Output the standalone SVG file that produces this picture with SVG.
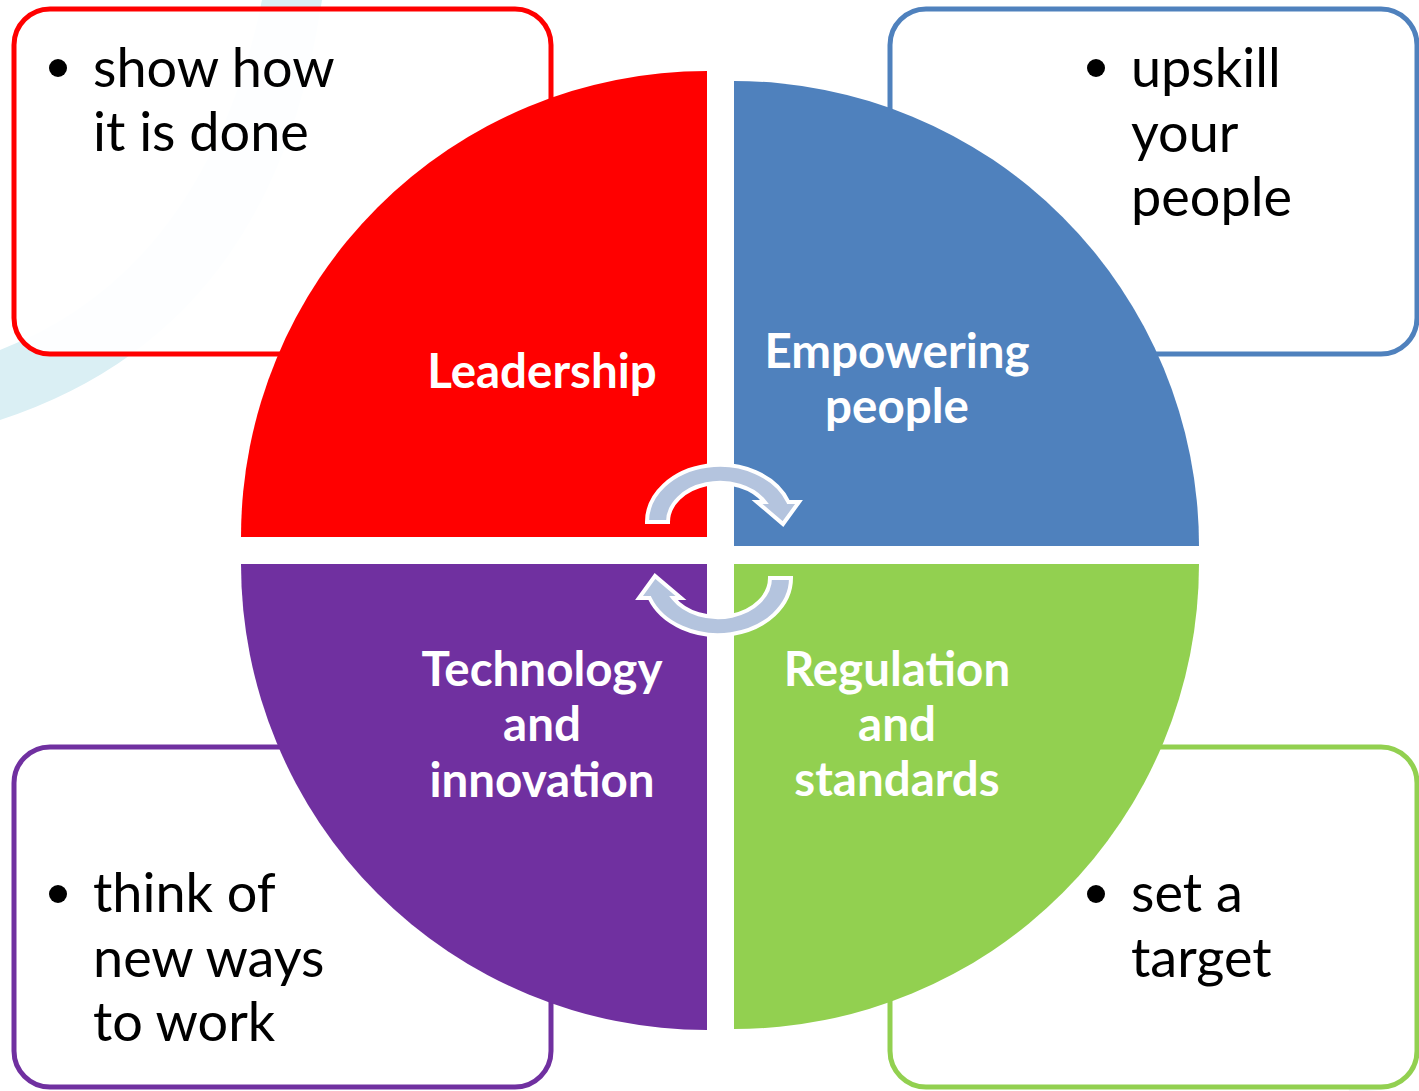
<svg xmlns="http://www.w3.org/2000/svg" width="1419" height="1091" viewBox="0 0 1419 1091">
  <style>
    .box { fill: #ffffff; fill-opacity: 0.94; stroke-width: 5; }
    .note { font-family: Lato, "Open Sans", "Liberation Sans", sans-serif; font-size: 54px; fill: #000000; }
    .label { font-family: Lato, "Open Sans", "Liberation Sans", sans-serif; font-weight: bold; font-size: 47.5px; fill: #ffffff; text-anchor: middle; }
    .cycle { fill: #b4c4de; stroke: #ffffff; stroke-width: 4; stroke-linejoin: miter; }
  </style>
  <defs>
    <path id="cycle-arrow" d="M647,522 A73,57 0 0 1 788.4,502 L799,502 L783,524 L757,502 L764.7,502 A52,39 0 0 0 668,522 Z"/>
  </defs>

  <rect width="1419" height="1091" fill="#ffffff"/>

  <!-- background swooshes -->
  <g id="background">
    <path d="M0,420 Q275,330 322,0 L262,0 Q205,270 0,350 Z" fill="#daeff4"/>
    <path d="M1133,817 Q1345,835 1367,1091" fill="none" stroke="#f3f5f8" stroke-width="36"/>
  </g>

  <!-- Leadership -->
  <g id="node-leadership">
    <rect class="box" x="14" y="9" width="537" height="345" rx="36" stroke="#ff0000"/>
    <circle cx="58" cy="68" r="9"/>
    <text class="note" x="93" y="87">show how</text>
    <text class="note" x="93" y="151">it is done</text>
    <path d="M707,537 L241,537 A466,466 0 0 1 707,71 Z" fill="#ff0000"/>
    <text class="label" x="542" y="388">Leadership</text>
  </g>

  <!-- Empowering people -->
  <g id="node-empowering">
    <rect class="box" x="890" y="9" width="527" height="345" rx="36" stroke="#4f81bd"/>
    <circle cx="1096" cy="68" r="9"/>
    <text class="note" x="1131" y="87">upskill</text>
    <text class="note" x="1131" y="152">your</text>
    <text class="note" x="1131" y="216">people</text>
    <path d="M734,546 L734,81 A465,465 0 0 1 1199,546 Z" fill="#4f81bd"/>
    <text class="label" x="897" y="368">Empowering</text>
    <text class="label" x="897" y="423">people</text>
  </g>

  <!-- Technology and innovation -->
  <g id="node-technology">
    <rect class="box" x="14" y="747" width="537" height="340" rx="36" stroke="#7030a0"/>
    <circle cx="58" cy="894" r="9"/>
    <text class="note" x="93" y="912">think of</text>
    <text class="note" x="93" y="977">new ways</text>
    <text class="note" x="93" y="1041">to work</text>
    <path d="M707,564 L707,1030 A466,466 0 0 1 241,564 Z" fill="#7030a0"/>
    <text class="label" x="542" y="686">Technology</text>
    <text class="label" x="542" y="741">and</text>
    <text class="label" x="542" y="797">innovation</text>
  </g>

  <!-- Regulation and standards -->
  <g id="node-regulation">
    <rect class="box" x="890" y="747" width="527" height="340" rx="36" stroke="#92d050"/>
    <circle cx="1096" cy="894" r="9"/>
    <text class="note" x="1131" y="912">set a</text>
    <text class="note" x="1131" y="977">target</text>
    <path d="M734,564 L1199,564 A465,465 0 0 1 734,1029 Z" fill="#92d050"/>
    <text class="label" x="897" y="686">Regulation</text>
    <text class="label" x="897" y="741">and</text>
    <text class="label" x="897" y="796">standards</text>
  </g>

  <!-- cycle arrows between the quadrants -->
  <g id="connectors">
    <use href="#cycle-arrow" class="cycle"/>
    <use href="#cycle-arrow" class="cycle" transform="rotate(180 719 550)"/>
  </g>
</svg>
